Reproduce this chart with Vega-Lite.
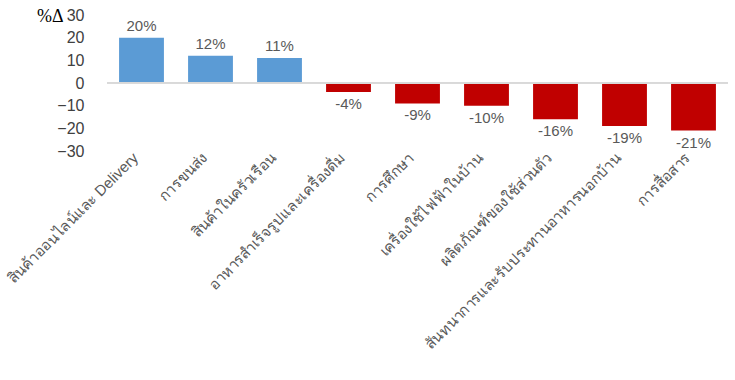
{
  "$schema": "https://vega.github.io/schema/vega-lite/v6.json",
  "width": 621,
  "height": 136,
  "autosize": "none",
  "padding": {"left": 107, "top": 15, "right": 7, "bottom": 229},
  "background": "white",
  "config": {"view": {"stroke": null}, "font": "Liberation Sans"},
  "data": {"values": [
    {"cat": "สินค้าออนไลน์และ Delivery", "value": 20, "label": "20%"},
    {"cat": "การขนส่ง", "value": 12, "label": "12%"},
    {"cat": "สินค้าในครัวเรือน", "value": 11, "label": "11%"},
    {"cat": "อาหารสำเร็จรูปและเครื่องดื่ม", "value": -4, "label": "-4%"},
    {"cat": "การศึกษา", "value": -9, "label": "-9%"},
    {"cat": "เครื่องใช้ไฟฟ้าในบ้าน", "value": -10, "label": "-10%"},
    {"cat": "ผลิตภัณฑ์ของใช้ส่วนตัว", "value": -16, "label": "-16%"},
    {"cat": "สันทนาการและรับประทานอาหารนอกบ้าน", "value": -19, "label": "-19%"},
    {"cat": "การสื่อสาร", "value": -21, "label": "-21%"}
  ]},
  "encoding": {
    "x": {"field": "cat", "type": "nominal", "sort": null,
      "scale": {"paddingInner": 0.35, "paddingOuter": 0.175},
      "axis": {"title": null, "labelAngle": -45, "labelAlign": "right", "labelBaseline": "middle", "labelFontSize": 15, "labelColor": "#595959", "labelPadding": 4, "labelOffset": -6, "ticks": false, "domain": false, "labelLimit": 400}},
    "y": {"field": "value", "type": "quantitative",
      "scale": {"domain": [-30, 30], "nice": false, "zero": true},
      "axis": {"values": [-30, -20, -10, 0, 10, 20, 30], "grid": false, "domain": false, "ticks": false, "labelFontSize": 16, "labelColor": "#404040", "labelPadding": 23,
        "title": "%Δ", "titleAngle": 0, "titleAlign": "right", "titleBaseline": "middle", "titleX": -44, "titleY": 1, "titleFont": "Liberation Serif", "titleFontSize": 18, "titleFontWeight": "normal", "titleColor": "#000000"}}
  },
  "layer": [
    {"mark": {"type": "bar"},
     "encoding": {"color": {"condition": {"test": "datum.value >= 0", "value": "#5B9BD5"}, "value": "#C00000"}}},
    {"mark": {"type": "rule", "color": "#D9D9D9", "strokeWidth": 1}, "encoding": {"y": {"datum": 0}, "x": null}},
    {"transform": [{"filter": "datum.value >= 0"}],
     "mark": {"type": "text", "baseline": "bottom", "dy": -4, "fontSize": 15, "color": "#595959"},
     "encoding": {"text": {"field": "label"}}},
    {"transform": [{"filter": "datum.value < 0"}],
     "mark": {"type": "text", "baseline": "top", "dy": 5, "fontSize": 15, "color": "#595959"},
     "encoding": {"text": {"field": "label"}}}
  ]
}
